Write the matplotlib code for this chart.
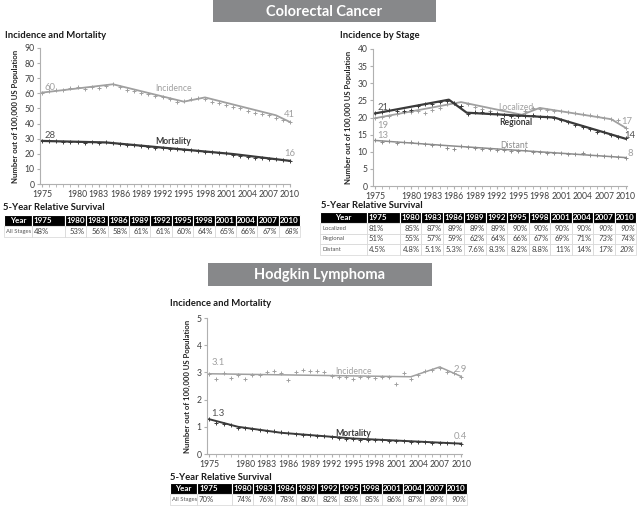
import numpy as np
import matplotlib
matplotlib.use("Agg")
import matplotlib.pyplot as plt
from matplotlib.patches import Rectangle
from matplotlib.table import Table

plt.rcParams['font.family'] = ['Lato', 'DejaVu Sans']

years = np.arange(1975, 2011)

# colorectal incidence and mortality (observed + joinpoint trend)
crc_inc = [60.5, 61.5, 62, 62.5, 63.5, 64, 63, 64, 63.5, 65, 66.5, 64.5, 62.5, 61.5,
           60.5, 59.5, 58, 57.5, 56, 54.5, 55, 56.5, 57, 56, 54.5, 53.5, 52.5, 51,
           50, 48.5, 47, 46, 45.5, 44, 42.5, 41]
crc_inc_trend_x = [1975, 1985, 1995, 1998, 2008, 2010]
crc_inc_trend_y = [60.5, 66, 54.5, 57.3, 45.5, 41]
crc_mort = [28.5, 28.4, 28.2, 28.0, 27.8, 27.5, 27.4, 27.6, 27.3, 27.5, 27.0, 26.4,
            26.0, 25.6, 25.1, 24.6, 24.1, 23.7, 23.3, 22.9, 22.6, 22.2, 21.7, 21.3,
            20.9, 20.7, 20.2, 19.5, 18.8, 18.0, 17.5, 17.0, 16.7, 16.3, 15.8, 15.3]
crc_mort_trend_x = [1975, 1984, 2002, 2010]
crc_mort_trend_y = [28.5, 27.5, 19.8, 15.3]

# colorectal incidence by stage
loc_obs = [19.8, 20.2, 20.5, 21.0, 21.5, 21.5, 22.0, 21.3, 22.2, 22.8, 24.0, 24.3,
           23.5, 23.8, 23.2, 22.5, 21.8, 21.2, 20.8, 20.3, 20.5, 21.8, 22.7, 22.5,
           22.2, 21.8, 21.8, 21.6, 21.2, 21.0, 20.8, 20.3, 20.0, 19.7, 19.2, 17.0]
loc_trend_x = [1975, 1987, 1995.5, 1998, 2008, 2010]
loc_trend_y = [19.8, 24.5, 20.8, 22.8, 19.5, 17.0]
reg_obs = [21.2, 21.5, 22.3, 22.0, 21.8, 22.3, 23.3, 24.0, 23.8, 24.5, 24.8, 24.2,
           23.5, 21.0, 21.5, 21.6, 21.3, 21.0, 20.8, 20.4, 20.3, 20.5, 20.6, 20.2,
           20.2, 19.8, 19.3, 18.7, 17.7, 17.1, 16.5, 15.8, 15.8, 14.9, 14.3, 14.0]
reg_trend_x = [1975, 1985.3, 1987.8, 2000, 2010]
reg_trend_y = [21.2, 25.2, 21.4, 20.0, 13.8]
dist_obs = [13.3, 12.9, 13.2, 12.6, 12.8, 12.9, 12.5, 12.4, 12.0, 12.1, 11.2, 10.8,
            11.8, 11.4, 11.0, 10.9, 10.9, 10.6, 10.5, 10.2, 10.2, 10.6, 10.0, 9.8,
            9.6, 9.5, 9.7, 9.3, 9.2, 9.5, 9.1, 9.0, 8.9, 8.7, 8.5, 8.3]
dist_trend_x = [1975, 1985, 2010]
dist_trend_y = [13.3, 11.8, 8.3]

# hodgkin lymphoma
hl_inc = [2.95, 2.76, 2.96, 2.78, 2.92, 2.76, 2.9, 2.9, 3.02, 3.06, 2.96, 2.72,
          3.02, 3.08, 3.06, 3.06, 3.02, 2.86, 2.84, 2.84, 2.76, 2.84, 2.82, 2.8,
          2.84, 2.82, 2.57, 2.96, 2.74, 2.92, 3.06, 3.08, 3.18, 3.02, 2.96, 2.84]
hl_inc_trend_x = [1975, 2003, 2007, 2010]
hl_inc_trend_y = [2.95, 2.84, 3.2, 2.85]
hl_mort = [1.28, 1.15, 1.1, 1.05, 0.97, 0.95, 0.92, 0.88, 0.85, 0.85, 0.8, 0.78,
           0.75, 0.7, 0.7, 0.66, 0.65, 0.63, 0.6, 0.56, 0.55, 0.53, 0.52, 0.5,
           0.5, 0.47, 0.47, 0.46, 0.45, 0.44, 0.43, 0.42, 0.4, 0.4, 0.39, 0.38]
hl_mort_trend_x = [1975, 1979, 1985, 1995, 2010]
hl_mort_trend_y = [1.28, 1.0, 0.78, 0.57, 0.38]

tick_years = [1975, 1980, 1983, 1986, 1989, 1992, 1995, 1998, 2001, 2004, 2007, 2010]
surv_cols = ['Year'] + [str(y) for y in tick_years]
crc_surv = {'All Stages': ['48%', '53%', '56%', '58%', '61%', '61%', '60%', '64%',
                           '65%', '66%', '67%', '68%']}
stage_surv = {'Localized': ['81%', '85%', '87%', '89%', '89%', '89%', '90%', '90%',
                            '90%', '90%', '90%', '90%'],
              'Regional': ['51%', '55%', '57%', '59%', '62%', '64%', '66%', '67%',
                           '69%', '71%', '73%', '74%'],
              'Distant': ['4.5%', '4.8%', '5.1%', '5.3%', '7.6%', '8.3%', '8.2%', '8.8%',
                          '11%', '14%', '17%', '20%']}
hl_surv = {'All Stages': ['70%', '74%', '76%', '78%', '80%', '82%', '83%', '85%',
                          '86%', '87%', '89%', '90%']}

LIGHT = '#a0a0a0'
DARK = '#3a3a3a'
W, H = 640, 516

fig = plt.figure(figsize=(6.4, 5.16), dpi=100)


def box(x0, y0, x1, y1):
    # pixel box (top-left origin) -> figure rect
    return [x0 / W, 1 - y1 / H, (x1 - x0) / W, (y1 - y0) / H]


def ftext(x, y, s, **kw):
    fig.text(x / W, 1 - y / H, s, **kw)


def banner(x0, y0, x1, y1, s):
    fig.patches.append(Rectangle((x0 / W, 1 - y1 / H), (x1 - x0) / W, (y1 - y0) / H,
                                 transform=fig.transFigure, facecolor='#87888a',
                                 edgecolor='none'))
    ftext((x0 + x1) / 2, (y0 + y1) / 2 + 1, s, color='white', fontsize=10.5,
          fontweight='bold', ha='center', va='center')


def panel(rect, xlim, ylim, yticks):
    ax = fig.add_axes(rect)
    ax.set_xlim(*xlim)
    ax.set_ylim(*ylim)
    for s in ['top', 'right']:
        ax.spines[s].set_visible(False)
    for s in ['left', 'bottom']:
        ax.spines[s].set_color('#b0b0b0')
        ax.spines[s].set_linewidth(0.8)
    ax.set_xticks(tick_years)
    ax.set_xticks(years, minor=True)
    ax.set_yticks(yticks)
    ax.tick_params(axis='both', labelsize=6.2, colors='#b0b0b0', labelcolor='#404040',
                   length=2.5, width=0.8, pad=1.5)
    ax.tick_params(axis='x', which='minor', length=2, colors='#b0b0b0')
    ax.set_ylabel('Number out of 100,000 US Population', fontsize=5.6,
                  fontweight='bold', color='#262626', labelpad=4)
    return ax


def series(ax, obs, tx, ty, color, lw=1.3):
    ax.plot(years, obs, linestyle='none', marker='+', markersize=2.5, mew=0.7,
            color=color, clip_on=False)
    ax.plot(tx, ty, color=color, lw=lw, clip_on=False)


def survival_table(x0, y0, x1, y1, widths, rows, label_size=4.2):
    ax = fig.add_axes(box(x0, y0, x1, y1))
    ax.axis('off')
    tb = Table(ax, bbox=[0, 0, 1, 1])
    nrows = len(rows) + 1
    h = 1.0 / nrows
    for j, c in enumerate(surv_cols):
        loc = 'center' if j == 0 else ('left' if j == 1 else 'right')
        cell = tb.add_cell(0, j, widths[j], h, text=c, loc=loc,
                           facecolor='black', edgecolor='white')
        cell.set_linewidth(0.8)
        cell.PAD = 0.06
        cell.get_text().set_color('white')
        cell.get_text().set_fontweight('bold')
        cell.get_text().set_fontsize(5.8)
    for i, (name, vals) in enumerate(rows.items(), start=1):
        cell = tb.add_cell(i, 0, widths[0], h, text=name, loc='left',
                           facecolor='white', edgecolor='#d4d4d4')
        cell.set_linewidth(0.5)
        cell.PAD = 0.06
        cell.get_text().set_fontsize(label_size)
        cell.get_text().set_color('#555555')
        for j, v in enumerate(vals, start=1):
            cell = tb.add_cell(i, j, widths[j], h, text=v,
                               loc='left' if j == 1 else 'right',
                               facecolor='white', edgecolor='#d4d4d4')
            cell.set_linewidth(0.5)
            cell.PAD = 0.06
            t = cell.get_text()
            t.set_fontsize(5.6)
            t.set_color('#404040')
            if j >= 11:
                t.set_fontstyle('italic')
    tb.auto_set_font_size(False)
    ax.add_table(tb)


# ---------- Colorectal Cancer ----------
banner(213, 0, 436, 22, 'Colorectal Cancer')

ftext(5, 36, 'Incidence and Mortality', fontsize=6.8, fontweight='bold',
      color='#1a1a1a', va='center')
ax1 = panel(box(40, 48, 290, 184), (1974.7, 2010), (0, 90), range(0, 91, 10))
series(ax1, crc_inc, crc_inc_trend_x, crc_inc_trend_y, LIGHT)
series(ax1, crc_mort, crc_mort_trend_x, crc_mort_trend_y, DARK, lw=1.6)
ax1.text(1975.3, 64, '60', fontsize=6.8, color=LIGHT, va='center')
ax1.text(1975.3, 32.4, '28', fontsize=6.8, color='#505050', va='center')
ax1.text(2009.9, 46, '41', fontsize=6.8, color=LIGHT, va='center', ha='center')
ax1.text(2009.9, 20, '16', fontsize=6.8, color=LIGHT, va='center', ha='center')
ax1.text(1993.5, 63, 'Incidence', fontsize=6.2, color=LIGHT, ha='center', va='center')
ax1.text(1993.5, 28, 'Mortality', fontsize=6.2, color=DARK, ha='center', va='center',
         fontweight='bold')

ftext(3, 208, '5-Year Relative Survival', fontsize=6.8, fontweight='bold',
      color='#1a1a1a', va='center')
survival_table(4, 215, 300, 237, [28, 33] + [21.4] * 11, crc_surv)

ftext(340, 36, 'Incidence by Stage', fontsize=6.8, fontweight='bold',
      color='#1a1a1a', va='center')
ax2 = panel(box(373, 49, 627, 186), (1974.7, 2010.2), (0, 40), range(0, 41, 5))
series(ax2, loc_obs, loc_trend_x, loc_trend_y, LIGHT)
series(ax2, reg_obs, reg_trend_x, reg_trend_y, DARK, lw=1.6)
series(ax2, dist_obs, dist_trend_x, dist_trend_y, '#8c8c8c', lw=1.1)
ax2.text(1975.3, 22.9, '21', fontsize=6.8, color='#505050', va='center')
ax2.text(1975.3, 17.7, '19', fontsize=6.8, color=LIGHT, va='center')
ax2.text(1975.3, 14.8, '13', fontsize=6.8, color=LIGHT, va='center')
ax2.text(2010.2, 18.8, '17', fontsize=6.8, color=LIGHT, va='center', ha='center')
ax2.text(2010.6, 14.6, '14', fontsize=6.8, color='#505050', va='center', ha='center')
ax2.text(2010.6, 9.4, '8', fontsize=6.8, color=LIGHT, va='center', ha='center')
ax2.text(1994.7, 23.0, 'Localized', fontsize=6.2, color=LIGHT, ha='center', va='center')
ax2.text(1994.7, 18.4, 'Regional', fontsize=6.2, color=DARK, ha='center', va='center',
         fontweight='bold')
ax2.text(1994.5, 11.8, 'Distant', fontsize=6.2, color='#8c8c8c', ha='center',
         va='center')

ftext(321, 205, '5-Year Relative Survival', fontsize=6.8, fontweight='bold',
      color='#1a1a1a', va='center')
survival_table(320, 212, 636, 255, [47, 33] + [21.5] * 11, stage_surv)

# ---------- Hodgkin Lymphoma ----------
banner(208, 263, 432, 286, 'Hodgkin Lymphoma')

ftext(170, 304, 'Incidence and Mortality', fontsize=6.8, fontweight='bold',
      color='#1a1a1a', va='center')
ax3 = panel(box(207, 318, 462, 454), (1974.7, 2010.1), (0, 5), range(0, 6))
series(ax3, hl_inc, hl_inc_trend_x, hl_inc_trend_y, LIGHT, lw=1.1)
series(ax3, hl_mort, hl_mort_trend_x, hl_mort_trend_y, DARK, lw=1.4)
ax3.text(1975.3, 3.35, '3.1', fontsize=6.8, color=LIGHT, va='center')
ax3.text(1975.3, 1.5, '1.3', fontsize=6.8, color='#505050', va='center')
ax3.text(2009.9, 3.12, '2.9', fontsize=6.8, color=LIGHT, va='center', ha='center')
ax3.text(2009.9, 0.63, '0.4', fontsize=6.8, color=LIGHT, va='center', ha='center')
ax3.text(1995, 3.05, 'Incidence', fontsize=6.2, color=LIGHT, ha='center', va='center')
ax3.text(1995, 0.74, 'Mortality', fontsize=6.2, color=DARK, ha='center', va='center',
         fontweight='bold')

ftext(170, 477, '5-Year Relative Survival', fontsize=6.8, fontweight='bold',
      color='#1a1a1a', va='center')
survival_table(170, 483, 467, 505, [27, 35] + [21.4] * 11, hl_surv)

fig.savefig('out.png', dpi=100)
